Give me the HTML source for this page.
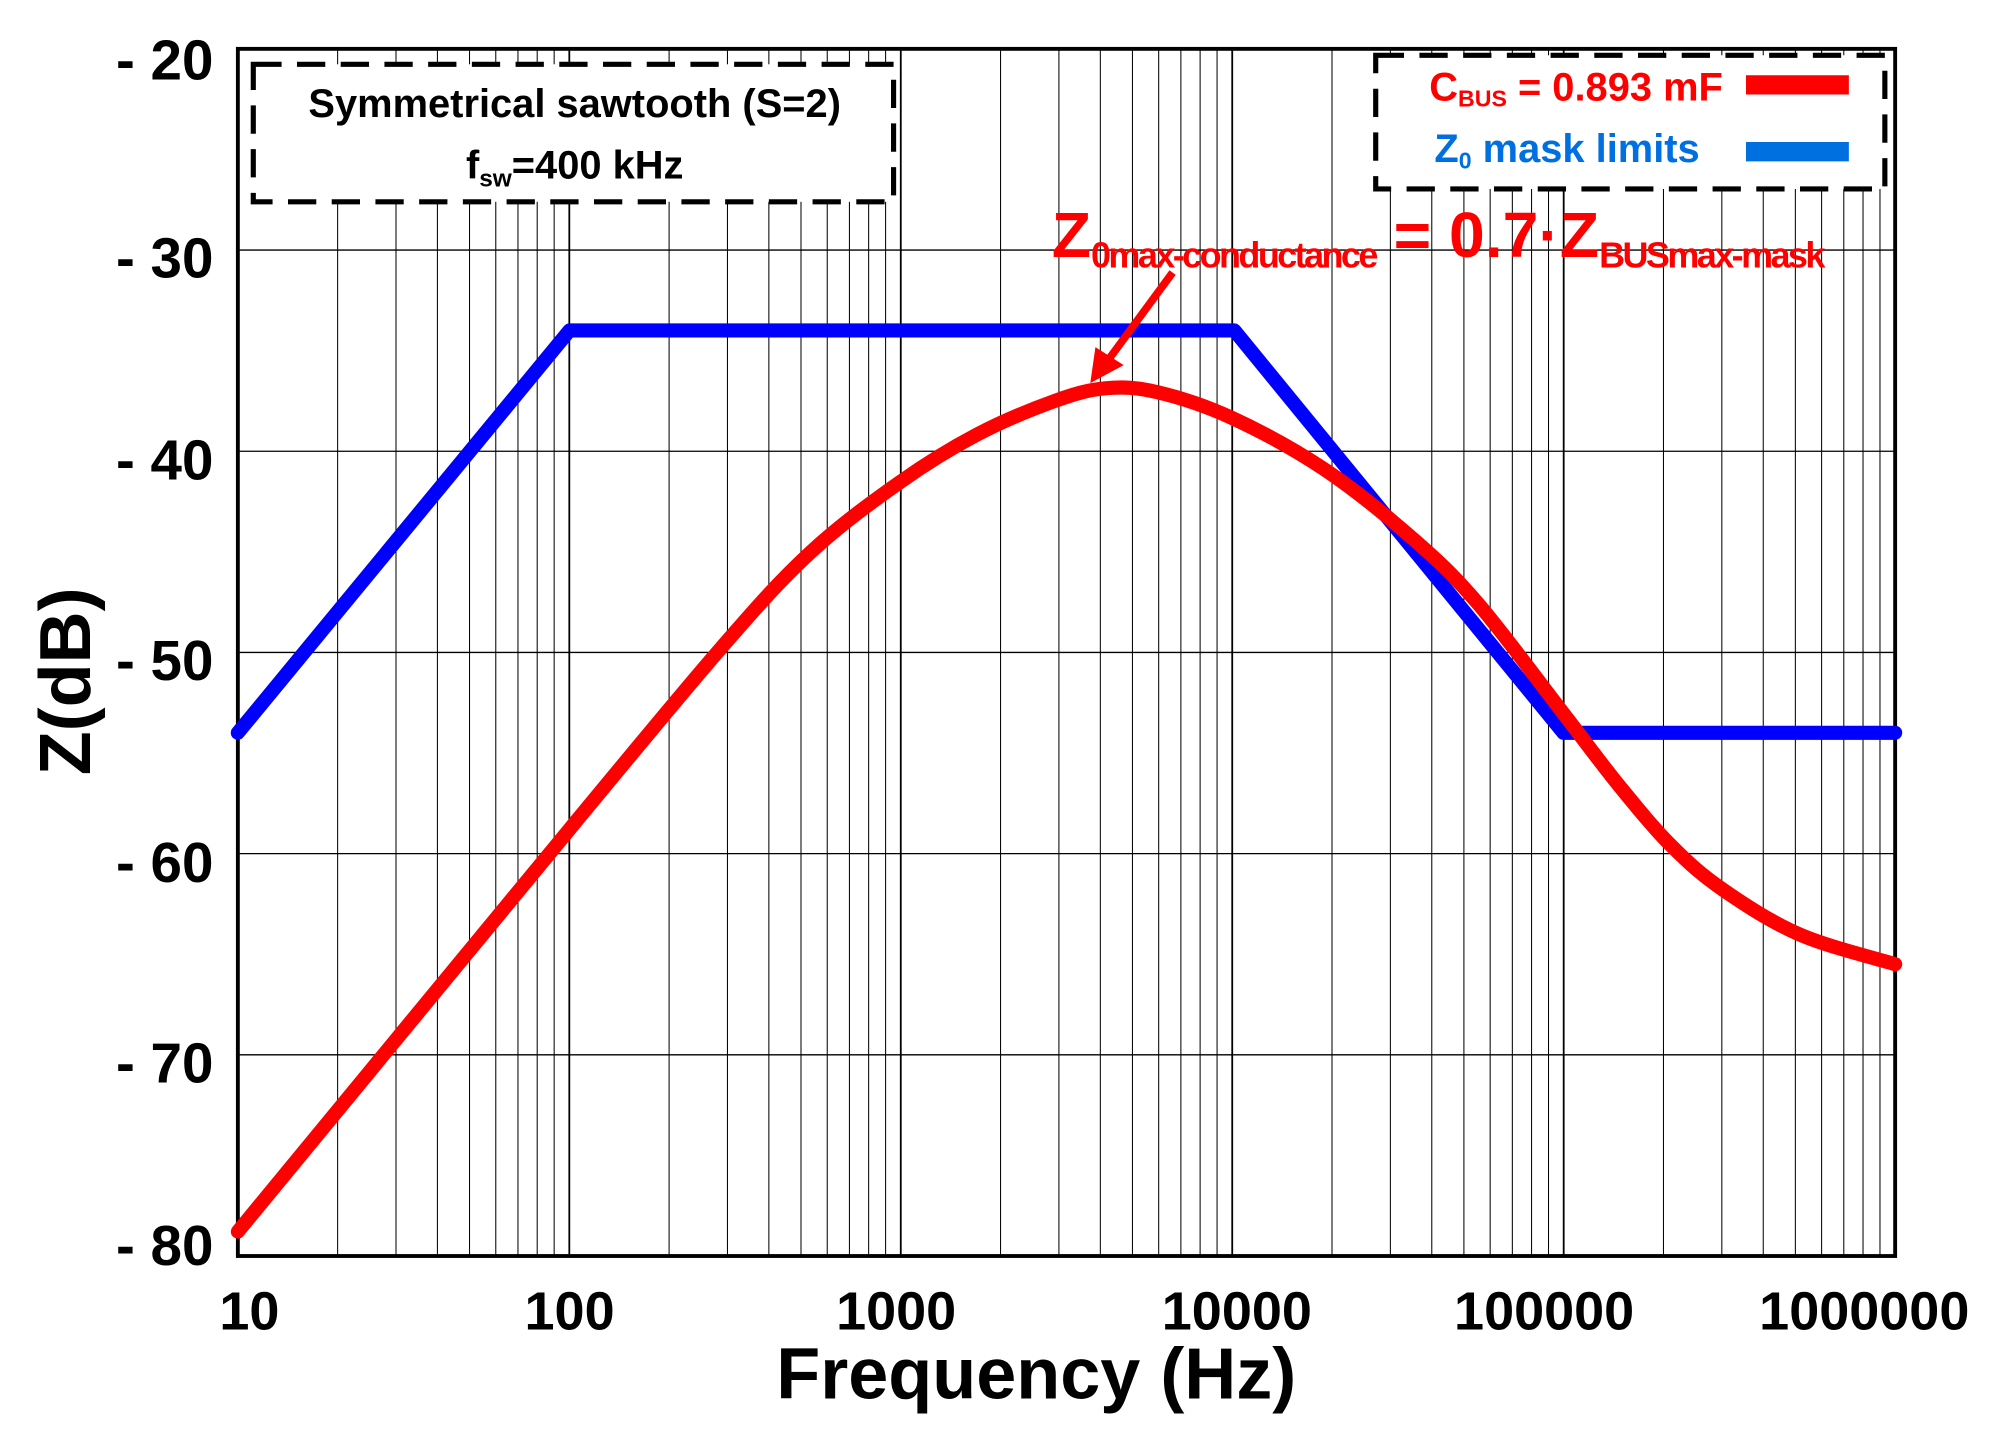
<!DOCTYPE html>
<html><head><meta charset="utf-8"><style>
html,body{margin:0;padding:0;background:#fff;}
svg{display:block;}
text{font-family:"Liberation Sans",sans-serif;font-weight:bold;}
</style></head><body>
<svg width="2016" height="1436" viewBox="0 0 1568 1117" preserveAspectRatio="none" xmlns="http://www.w3.org/2000/svg">
<g id="grid" stroke="#000" stroke-width="1">
<line x1="185" x2="1474" y1="194.5" y2="194.5"/>
<line x1="185" x2="1474" y1="351" y2="351"/>
<line x1="185" x2="1474" y1="507.5" y2="507.5"/>
<line x1="185" x2="1474" y1="664" y2="664"/>
<line x1="185" x2="1474" y1="820.5" y2="820.5"/>
</g>
<g stroke="#000" id="vg"></g>
<rect x="185" y="38" width="1289" height="939" fill="none" stroke="#000" stroke-width="3"/>

<polyline fill="none" stroke="#0000ff" stroke-width="11" stroke-linejoin="round" stroke-linecap="round"
 points="185,570 443,257 960,257 1216,570 1474,570"/>
<path id="red" fill="none" stroke="#ff0000" stroke-width="11" stroke-linejoin="round" stroke-linecap="round" d=""/>

<g font-size="44" text-anchor="end">
<text x="166" y="62">- 20</text>
<text x="166" y="216">- 30</text>
<text x="166" y="373">- 40</text>
<text x="166" y="529">- 50</text>
<text x="166" y="686">- 60</text>
<text x="166" y="842">- 70</text>
<text x="166" y="984">- 80</text>
</g>
<g font-size="42" text-anchor="middle">
<text x="194" y="1034">10</text>
<text x="443" y="1034">100</text>
<text x="697" y="1034">1000</text>
<text x="962" y="1034">10000</text>
<text x="1201" y="1034">100000</text>
<text x="1450" y="1034">1000000</text>
</g>
<text x="806" y="1088" font-size="56" text-anchor="middle">Frequency (Hz)</text>
<text transform="translate(70,530) rotate(-90)" font-size="56" text-anchor="middle">Z(dB)</text>

<rect x="197" y="50" width="498" height="107" fill="#fff" stroke="#000" stroke-width="4" stroke-dasharray="22,12"/>
<text x="447" y="91" font-size="31" text-anchor="middle">Symmetrical sawtooth (S=2)</text>
<text x="447" y="139" font-size="31" text-anchor="middle">f<tspan font-size="19" dy="6">sw</tspan><tspan dy="-6">=400 kHz</tspan></text>

<rect x="1070" y="43" width="396" height="104" fill="#fff" stroke="#000" stroke-width="4" stroke-dasharray="22,12"/>
<text x="1340" y="78" font-size="31" text-anchor="end" fill="#ff0000">C<tspan font-size="18" dy="5">BUS</tspan><tspan dy="-5"> = 0.893 mF</tspan></text>
<line x1="1358" x2="1438" y1="66" y2="66" stroke="#ff0000" stroke-width="15"/>
<text x="1322" y="126" font-size="31" text-anchor="end" fill="#0070e0">Z<tspan font-size="18" dy="5">0</tspan><tspan dy="-5"> mask limits</tspan></text>
<line x1="1358" x2="1438" y1="118" y2="118" stroke="#0070e0" stroke-width="15"/>

<text x="818" y="200" font-size="50" fill="#ff0000">Z<tspan font-size="28" dy="8" letter-spacing="-2">0max-conductance</tspan><tspan dy="-8"> = 0.7·Z</tspan><tspan font-size="28" dy="8" letter-spacing="-2">BUSmax-mask</tspan></text>
<line x1="912" y1="212" x2="862" y2="280" stroke="#ff0000" stroke-width="6"/>
<polygon points="848,298 852,270 874,284" fill="#ff0000"/>
</svg>
<script>
(function(){
 var g=document.getElementById('vg');var ns='http://www.w3.org/2000/svg';
 for(var d=0;d<5;d++){for(var k=1;k<10;k++){
  var x=185+257.8*(d+Math.log10(k));
  var l=document.createElementNS(ns,'line');
  l.setAttribute('x1',x);l.setAttribute('x2',x);l.setAttribute('y1',38);l.setAttribute('y2',977);
  l.setAttribute('stroke-width',k==1?1.4:0.8);
  g.appendChild(l);}}
 var p=[[185,958],[443,645],[560,505],[630,430],[700,375],[760,338],[820,312],[860,302],[900,305],[958,325],[1030,365],[1100,420],[1150,470],[1216,555],[1260,612],[1300,658],[1340,692],[1400,727],[1474,750]];
 var s='M'+p[0][0]+','+p[0][1];
 for(var i=0;i<p.length-1;i++){
  var p0=p[i>0?i-1:0],p1=p[i],p2=p[i+1],p3=p[i+2<p.length?i+2:i+1];
  var c1x=p1[0]+(p2[0]-p0[0])/6,c1y=p1[1]+(p2[1]-p0[1])/6;
  var c2x=p2[0]-(p3[0]-p1[0])/6,c2y=p2[1]-(p3[1]-p1[1])/6;
  s+=' C'+c1x+','+c1y+' '+c2x+','+c2y+' '+p2[0]+','+p2[1];
 }
 document.getElementById('red').setAttribute('d',s);
})();
</script>
</body></html>
